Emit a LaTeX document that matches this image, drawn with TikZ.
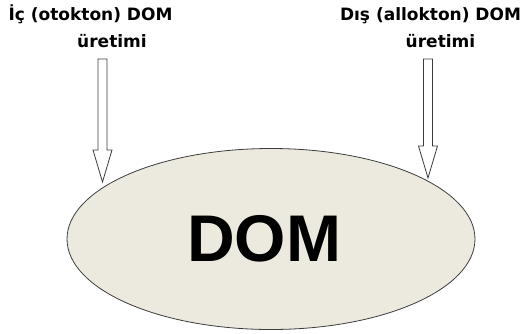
\documentclass[tikz,border=0pt]{standalone}
\usepackage{fontspec}
\usepackage{tikz}
\usetikzlibrary{calc,shapes.geometric}
\newfontfamily\lblfont{DejaVu Sans}
\newfontfamily\domfont{Liberation Sans}
\definecolor{domfill}{HTML}{ECEADF}
\definecolor{edge}{HTML}{3C3C3C}
\tikzset{
  lbl/.style={anchor=base, align=center, inner sep=0pt, font=\lblfont\bfseries\fontsize{17}{27}\selectfont},
  hollowarr/.style={draw=edge, line width=0.8pt, fill=white, line join=miter},
}
% open block arrow, shaft from #1 straight down to the tip #2
\newcommand\blockarrow[2]{%
  \draw[hollowarr] let \p1=(#1), \p2=(#2) in
    (\x2-4.5pt,\y1) -- (\x2+4.5pt,\y1) -- (\x2+4.5pt,\y2+32pt) -- (\x2+9.5pt,\y2+32pt)
    -- (\p2) -- (\x2-9.5pt,\y2+32pt) -- (\x2-4.5pt,\y2+32pt) -- cycle;}

\begin{document}
\begin{tikzpicture}[x=1pt,y=-1pt]
  \useasboundingbox (0,0) rectangle (525,333);

  \node[ellipse, draw=edge, line width=0.8pt, fill=domfill, minimum width=408pt, minimum height=181pt,
        font=\domfont\bfseries\fontsize{66}{70}\selectfont] (dom) at (271,239) {DOM\hspace*{14pt}};

  % the base anchor sits on the second line
  \node[lbl] (ic) at (90.5,47) {İç (otokton) DOM\\\hspace*{43pt}üretimi};
  \node[lbl] (dis) at (430.5,47) {Dış (allokton) DOM\\\hspace*{20pt}üretimi};

  \coordinate (srcL) at (102.5,59);
  \coordinate (tipL) at (102.5,182);
  \coordinate (srcR) at (428,59);
  \coordinate (tipR) at (428,178);
  \blockarrow{srcL}{tipL}
  \blockarrow{srcR}{tipR}
\end{tikzpicture}
\end{document}
